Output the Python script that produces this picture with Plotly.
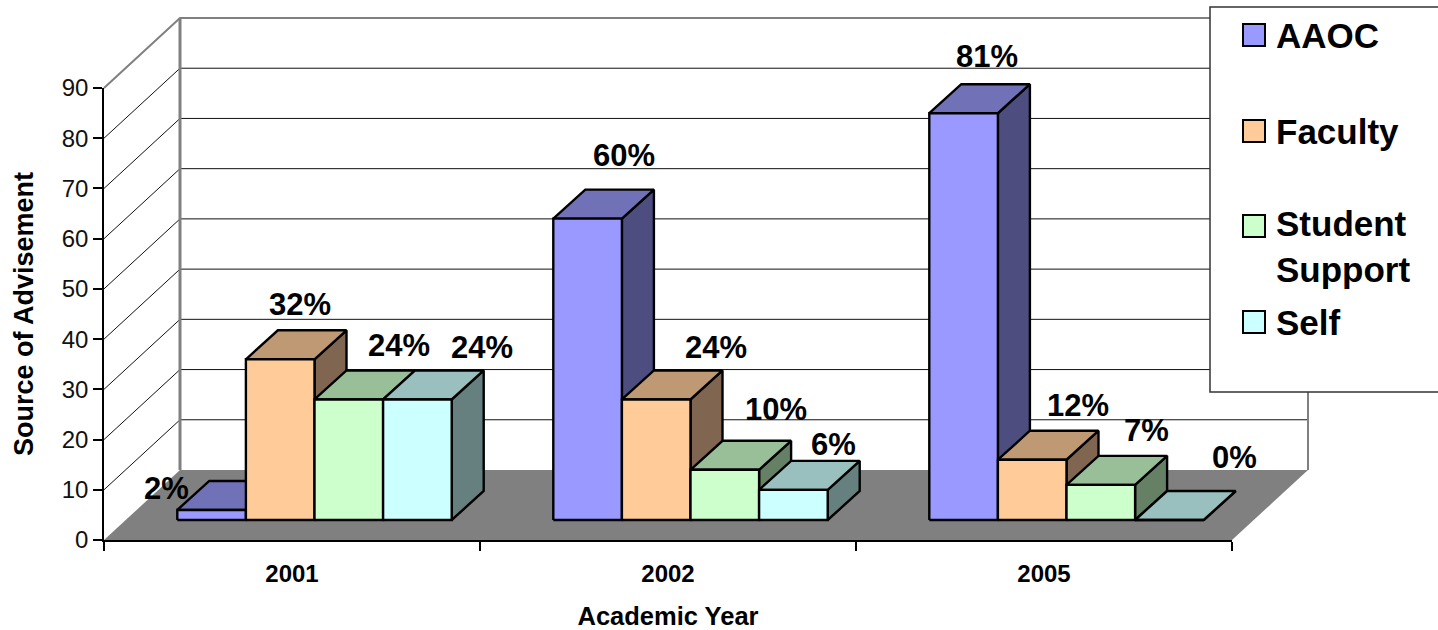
import plotly.graph_objects as go

# ---- data ----
YEARS = ["2001", "2002", "2005"]
SERIES = ["AAOC", "Faculty", "Student Support", "Self"]
AAOC = [2, 60, 81]
FACULTY = [32, 24, 12]
STUDENT = [24, 10, 7]
SELF = [24, 6, 0]
Y_TICKS = [0, 10, 20, 30, 40, 50, 60, 70, 80, 90]

# ---- style ----
W, H = 1438, 630
FONT = "Liberation Sans"
FRONT = ["#9999FF", "#FFCC99", "#CCFFCC", "#CCFFFF"]
TOP = ["#7171B8", "#BF9973", "#99BF99", "#99BFBF"]
SIDE = ["#4D4D80", "#806650", "#668066", "#668080"]
OFFSETS = [
    [(-45, 21), (20, 55), (50, 54), (65, 52)],
    [(36, 63), (60, 52), (51, 60), (40, 45)],
    [(23, 57), (46, 54), (46, 54), (65, 63)],
]

# oblique projection, in axis units
X0, X1, Y0, Y1 = 104, 1232, 540, 88          # front axes in pixels
CAT_PX = (X1 - X0) / 3
VAL_PX = (Y0 - Y1) / 90
WALL_DX, WALL_DY = 76 / CAT_PX, 70 / VAL_PX  # full floor depth
FRONT_DX, FRONT_DY = 22.5 / CAT_PX, 20 / VAL_PX  # front of the bars
BAR_DX, BAR_DY = 32 / CAT_PX, 29 / VAL_PX    # depth of one bar
BAR_W = 68.6 / CAT_PX
GROUP_START = (1 - 4 * BAR_W) / 2
PAD = 6

fig = go.Figure()


def poly(xs, ys, fill, line=None, width=0, name=""):
    fig.add_trace(go.Scatter(
        x=xs, y=ys, mode="lines", fill="toself", fillcolor=fill,
        line=dict(color=line or fill, width=width), name=name,
        hoverinfo="skip", showlegend=False, xaxis="x", yaxis="y"))


def path(xs, ys, color, width):
    fig.add_trace(go.Scatter(
        x=xs, y=ys, mode="lines", line=dict(color=color, width=width),
        hoverinfo="skip", showlegend=False, xaxis="x", yaxis="y", connectgaps=False))


XEND = 3 + WALL_DX
# side-wall and back-wall grid lines
gx, gy = [], []
for v in Y_TICKS[1:-1]:
    gx += [0, WALL_DX, XEND, None]
    gy += [v, v + WALL_DY, v + WALL_DY, None]
path(gx, gy, "#111111", 1)
# floor
poly([0, 3, XEND, WALL_DX, 0], [0, 0, WALL_DY, WALL_DY, 0], "#808080")
# wall frame
top = Y_TICKS[-1] + WALL_DY
path([0, WALL_DX, XEND, XEND], [Y_TICKS[-1], top, top, WALL_DY], "#808080", 2)
path([WALL_DX, WALL_DX], [top, WALL_DY], "#808080", 3)

# bars
values = [AAOC, FACULTY, STUDENT, SELF]
for i, year in enumerate(YEARS):
    for j, s in enumerate(SERIES):
        v = values[j][i]
        l = i + GROUP_START + j * BAR_W + FRONT_DX
        r = l + BAR_W
        b = FRONT_DY
        t = FRONT_DY + v
        label = f"{s} {year}"
        poly([r, r + BAR_DX, r + BAR_DX, r, r], [b, b + BAR_DY, t + BAR_DY, t, b],
             SIDE[j], "black", 2.4, label)
        poly([l, r, r + BAR_DX, l + BAR_DX, l], [t, t, t + BAR_DY, t + BAR_DY, t],
             TOP[j], "black", 2.4, label)
        poly([l, r, r, l, l], [b, b, t, t, b], FRONT[j], "black", 2.4, label)
        dx, dy = OFFSETS[i][j]
        fig.add_annotation(x=(l + r) / 2, y=t, xref="x", yref="y", text=f"{v}%",
                           showarrow=False, xshift=dx, yshift=dy,
                           font=dict(family=FONT, size=31, color="black", weight=700))

# invisible trace that carries the real axes
fig.add_trace(go.Scatter(x=[0, 3], y=[0, 90], mode="none", hoverinfo="skip",
                         showlegend=False, xaxis="x2", yaxis="y2"))

# legend box
LEFT, TOP_Y, BOTTOM = 1210, 7, 392
fig.add_shape(type="rect", xref="paper", yref="paper", layer="above",
              x0=LEFT / W, x1=(W + 20) / W, y0=1 - BOTTOM / H, y1=1 - TOP_Y / H,
              fillcolor="white", line=dict(color="#333333", width=1.5))
LEG_NAMES = ["AAOC", "Faculty", "Student<br>Support", "Self"]
LEG_SWATCH = [24, 120, 215, 311]
LEG_TEXT = [35, 131, 247, 322]
for name, c, sy, ty in zip(LEG_NAMES, FRONT, LEG_SWATCH, LEG_TEXT):
    fig.add_shape(type="rect", xref="paper", yref="paper", layer="above",
                  x0=1243 / W, x1=1265 / W, y0=1 - (sy + 22) / H, y1=1 - sy / H,
                  fillcolor=c, line=dict(color="black", width=2))
    fig.add_annotation(xref="paper", yref="paper", x=1274 / W, y=1 - ty / H,
                       text=name, showarrow=False, xanchor="left", yanchor="middle",
                       align="left",
                       font=dict(family=FONT, size=35, color="black", weight=700))

fig.update_layout(
    width=W, height=H, margin=dict(l=0, r=0, t=0, b=0, pad=0, autoexpand=False),
    paper_bgcolor="white", plot_bgcolor="rgba(0,0,0,0)", showlegend=False,
    font=dict(family=FONT, color="black"),
    # hidden wide axes on the same scale as the real ones, holding the 3-D walls
    xaxis=dict(domain=[(X0 - PAD) / W, (X0 + XEND * CAT_PX + PAD) / W],
               range=[-PAD / CAT_PX, XEND + PAD / CAT_PX], visible=False, fixedrange=True),
    yaxis=dict(domain=[(H - Y0 - PAD) / H, (H - Y1 + WALL_DY * VAL_PX + PAD) / H],
               range=[-PAD / VAL_PX, top + PAD / VAL_PX], visible=False, fixedrange=True),
    xaxis2=dict(domain=[X0 / W, X1 / W], range=[0, 3], anchor="y2", automargin=False,
                tickmode="array", tickvals=[0.5, 1.5, 2.5], ticktext=YEARS,
                ticks="outside", ticklen=11, tickcolor="rgba(0,0,0,0)",
                tickfont=dict(family=FONT, size=24, color="black", weight=700),
                minor=dict(tickmode="array", tickvals=[0, 1, 2, 3], ticks="outside",
                           ticklen=9, tickcolor="black", tickwidth=1.5),
                showline=True, linecolor="black", linewidth=1.5, showgrid=False,
                zeroline=False, fixedrange=True,
                title=dict(text="Academic Year", standoff=28,
                           font=dict(family=FONT, size=25.5, color="black", weight=700))),
    yaxis2=dict(domain=[(H - Y0) / H, (H - Y1) / H], range=[0, 90], anchor="x2", automargin=False,
                tickmode="array", tickvals=Y_TICKS,
                ticks="outside", ticklen=9, tickcolor="black", tickwidth=1.5,
                tickfont=dict(family=FONT, size=24, color="#111111"),
                showline=True, linecolor="black", linewidth=1.5, showgrid=False,
                zeroline=False, fixedrange=True,
                title=dict(text="Source of Advisement", standoff=20,
                           font=dict(family=FONT, size=27, color="black", weight=700))),
)

fig.write_html("out.html", config=dict(displayModeBar=False),
               post_script="document.body.style.margin='0';document.documentElement.style.overflow='hidden';")
